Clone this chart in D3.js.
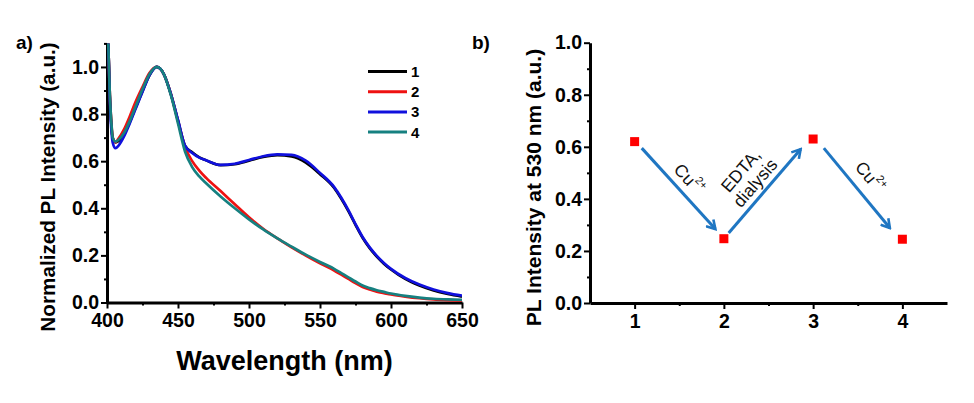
<!DOCTYPE html>
<html><head><meta charset="utf-8">
<script src="https://cdn.jsdelivr.net/npm/d3@7"></script>
<style>
html,body{margin:0;padding:0;background:#fff;}
svg text{font-family:"Liberation Sans",Arial,sans-serif;}
</style></head>
<body>
<svg id="chart" width="974" height="403"></svg>
<script>
// ---------- Panel a data (PL spectra) ----------
const wavelengths = [400,401,402,403,404,406,408,412,416,420,425,430,435,440,445,450,455,460,465,470,480,490,500,510,520,530,540,550,560,565,570,575,580,585,590,595,600,610,620,630,640,650];
const series1 = [1.30,1.08,0.88,0.76,0.70,0.680,0.685,0.715,0.765,0.825,0.897,0.966,1.000,0.970,0.885,0.772,0.665,0.638,0.616,0.603,0.583,0.587,0.602,0.618,0.626,0.620,0.594,0.545,0.486,0.440,0.388,0.330,0.275,0.231,0.195,0.165,0.140,0.100,0.072,0.051,0.036,0.025];
const series2 = [1.30,1.08,0.88,0.77,0.70,0.680,0.695,0.735,0.790,0.850,0.915,0.975,1.000,0.970,0.885,0.770,0.660,0.600,0.560,0.528,0.473,0.417,0.362,0.313,0.272,0.234,0.199,0.166,0.136,0.118,0.100,0.082,0.066,0.055,0.046,0.040,0.034,0.025,0.018,0.013,0.010,0.008];
const series3 = [1.30,1.08,0.86,0.74,0.68,0.655,0.665,0.705,0.760,0.820,0.895,0.965,1.000,0.970,0.885,0.775,0.665,0.635,0.615,0.603,0.584,0.589,0.605,0.621,0.629,0.627,0.602,0.550,0.490,0.445,0.392,0.333,0.278,0.234,0.198,0.168,0.143,0.104,0.076,0.055,0.040,0.029];
const series4 = [1.30,1.08,0.88,0.77,0.70,0.683,0.690,0.720,0.770,0.830,0.905,0.970,1.000,0.970,0.880,0.760,0.640,0.575,0.535,0.505,0.450,0.400,0.353,0.310,0.272,0.237,0.203,0.172,0.143,0.125,0.107,0.089,0.072,0.061,0.052,0.045,0.038,0.028,0.021,0.016,0.013,0.011];
const seriesNames = ["1","2","3","4"];
const seriesColors = ["#000000","#ee1111","#1010dd","#168080"];
const xTicksA = [400,450,500,550,600,650];
const yTicksA = [0,0.2,0.4,0.6,0.8,1.0];

// ---------- Panel b data ----------
const steps = [1,2,3,4];
const intensity530 = [0.62,0.247,0.63,0.245];
const xTicksB = [1,2,3,4];
const yTicksB = [0,0.2,0.4,0.6,0.8,1.0];
// arrows (data coordinates) and their labels
const arrowFrom = [[1.08,0.595],[2.054,0.269],[3.12,0.595]];
const arrowTo   = [[1.905,0.284],[2.86,0.591],[3.86,0.288]];
const arrowLabels = [["Cu|2+"],["EDTA,","dialysis"],["Cu|2+"]];

const svg = d3.select("#chart");
const fmt = d3.format(".1f");

// ================= Panel a =================
const xA = d3.scaleLinear().domain([400,650]).range([107,462]);
const yA = d3.scaleLinear().domain([0,1.1]).range([302.5,43.4]);

svg.append("clipPath").attr("id","clipA").append("rect")
  .attr("x",107).attr("y",43.4).attr("width",355).attr("height",259.1);

function styleAxis(g){
  g.select(".domain").attr("stroke","#000").attr("stroke-width",3);
  g.selectAll(".tick line").attr("stroke","#000").attr("stroke-width",2);
  g.selectAll(".tick text").attr("fill","#000").attr("font-weight","bold")
    .attr("font-size","19.5px").attr("font-family","'Liberation Sans',Arial,sans-serif");
}
function minor(g){
  g.select(".domain").remove();
  g.selectAll("line").attr("stroke","#000").attr("stroke-width",2);
}

// minor ticks
svg.append("g").attr("transform","translate(0,302.5)")
  .call(d3.axisBottom(xA).tickValues(d3.range(425,650,50)).tickSize(3).tickFormat("")).call(minor);
svg.append("g").attr("transform","translate(107,0)")
  .call(d3.axisLeft(yA).tickValues([0.1,0.3,0.5,0.7,0.9,1.1]).tickSize(3).tickFormat("")).call(minor);

svg.append("g").attr("transform","translate(0,302.5)")
  .call(d3.axisBottom(xA).tickValues(xTicksA).tickSize(6).tickSizeOuter(0).tickPadding(5).tickFormat(d3.format("d")))
  .call(styleAxis);
svg.append("g").attr("transform","translate(107,0)")
  .call(d3.axisLeft(yA).tickValues(yTicksA).tickSize(6).tickSizeOuter(0).tickPadding(2).tickFormat(fmt))
  .call(styleAxis);

const allSeries = [series1,series2,series3,series4];
const line = d3.line().x(d=>xA(d[0])).y(d=>yA(d[1])).curve(d3.curveMonotoneX);
const gLines = svg.append("g").attr("clip-path","url(#clipA)");
allSeries.forEach((s,i)=>{
  gLines.append("path")
    .datum(wavelengths.map((w,j)=>[w,s[j]]))
    .attr("d",line).attr("fill","none")
    .attr("stroke",seriesColors[i]).attr("stroke-width",2.7)
    .attr("stroke-linejoin","round");
});

// legend
const leg = svg.append("g");
seriesNames.forEach((n,i)=>{
  const yy = 71.5 + i*20.2;
  leg.append("line").attr("x1",368).attr("x2",407).attr("y1",yy).attr("y2",yy)
    .attr("stroke",seriesColors[i]).attr("stroke-width",3);
  leg.append("text").attr("x",411).attr("y",yy+5.5).text(n)
    .attr("font-weight","bold").attr("font-size","15px");
});

// titles
svg.append("text").attr("x",284.5).attr("y",370).attr("text-anchor","middle")
  .attr("font-weight","bold").attr("font-size","27px").text("Wavelength (nm)");
svg.append("text").attr("transform","translate(55,187) rotate(-90)").attr("text-anchor","middle")
  .attr("font-weight","bold").attr("font-size","20.7px").text("Normalized PL Intensity (a.u.)");
svg.append("text").attr("x",16).attr("y",49).attr("font-weight","bold").attr("font-size","19px").text("a)");

// ================= Panel b =================
const xB = d3.scaleLinear().domain([0.5,4.5]).range([590,947]);
const yB = d3.scaleLinear().domain([0,1]).range([303,42.7]);

svg.append("g").attr("transform","translate(0,303)")
  .call(d3.axisBottom(xB).tickValues([1.5,2.5,3.5]).tickSize(3).tickFormat("")).call(minor);
svg.append("g").attr("transform","translate(590,0)")
  .call(d3.axisLeft(yB).tickValues([0.1,0.3,0.5,0.7,0.9]).tickSize(3).tickFormat("")).call(minor);

svg.append("g").attr("transform","translate(0,303)")
  .call(d3.axisBottom(xB).tickValues(xTicksB).tickSize(6).tickSizeOuter(0).tickPadding(5).tickFormat(d3.format("d")))
  .call(styleAxis);
svg.append("g").attr("transform","translate(590,0)")
  .call(d3.axisLeft(yB).tickValues(yTicksB).tickSize(6).tickSizeOuter(0).tickPadding(2).tickFormat(fmt))
  .call(styleAxis);

svg.append("text").attr("transform","translate(541,187.5) rotate(-90)").attr("text-anchor","middle")
  .attr("font-weight","bold").attr("font-size","21px").text("PL Intensity at 530 nm (a.u.)");
svg.append("text").attr("x",472).attr("y",49).attr("font-weight","bold").attr("font-size","19px").text("b)");

// arrow marker
const arrowColor = "#1f76c2";
svg.append("defs").append("marker").attr("id","head")
  .attr("viewBox","0 0 12 12").attr("refX",10).attr("refY",6)
  .attr("markerWidth",12).attr("markerHeight",12).attr("markerUnits","userSpaceOnUse")
  .attr("orient","auto")
  .append("path").attr("d","M1.5,1 L10,6 L1.5,11").attr("fill","none")
  .attr("stroke",arrowColor).attr("stroke-width",2.6).attr("stroke-linejoin","miter");

const labelOffsets = [14,22,17];
arrowFrom.forEach((f,i)=>{
  const x1=xB(f[0]), y1=yB(f[1]), x2=xB(arrowTo[i][0]), y2=yB(arrowTo[i][1]);
  svg.append("line").attr("x1",x1).attr("y1",y1).attr("x2",x2).attr("y2",y2)
    .attr("stroke",arrowColor).attr("stroke-width",3).attr("marker-end","url(#head)");
  const dx=x2-x1, dy=y2-y1, L=Math.hypot(dx,dy);
  const ux=dx/L, uy=dy/L;
  let px=uy, py=-ux; if(py>0){px=-px;py=-py;}
  const off = labelOffsets[i];
  const cx=(x1+x2)/2+px*off, cy=(y1+y2)/2+py*off;
  const ang = Math.atan2(dy,dx)*180/Math.PI;
  const g = svg.append("g").attr("transform",`translate(${cx},${cy}) rotate(${ang})`);
  const lines = arrowLabels[i];
  lines.forEach((t,k)=>{
    const yy = (k-(lines.length-1)/2)*19;
    const tx = g.append("text").attr("x",0).attr("y",yy).attr("text-anchor","middle")
      .attr("dominant-baseline","central").attr("font-family","'Open Sans',sans-serif")
      .attr("font-size","17.5px").attr("fill","#111");
    if(t.includes("|")){
      const [base,sup]=t.split("|");
      tx.append("tspan").text(base);
      tx.append("tspan").text(sup).attr("font-size","11px").attr("dy","-7");
    } else tx.text(t);
  });
});

// points
svg.append("g").selectAll("rect").data(steps).join("rect")
  .attr("x",d=>xB(d)-4.5).attr("y",(d,i)=>yB(intensity530[i])-4.5)
  .attr("width",9).attr("height",9).attr("fill","#ff0000");
</script>
</body></html>
